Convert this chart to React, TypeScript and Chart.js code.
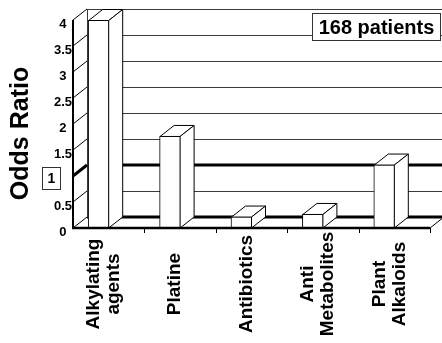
import React, { useEffect, useRef } from 'react';
import { Chart, registerables } from 'chart.js';

Chart.register(...registerables);

// ---- data ----
const categories: string[][] = [
  ['Alkylating', 'agents'],
  ['Platine'],
  ['Antibiotics'],
  ['Anti', 'Metabolites'],
  ['Plant', 'Alkaloids'],
];
const oddsRatios: number[] = [4.0, 1.77, 0.22, 0.27, 1.22];
const yMin = 0;
const yMax = 4;
const yStep = 0.5;
const referenceValue = 1;
const yTitle = 'Odds Ratio';
const noteText = '168 patients';

// ---- styling / geometry ----
const W = 442;
const H = 343;
const DX = 14;
const DY = -11;
const BAR_SHIFT = -10;
const LABEL_SHIFT = -5;
const FONT = "'Liberation Sans', Arial, Helvetica, sans-serif";

const threeD = {
  id: 'threeD',
  afterDatasetsUpdate(chart: any) {
    const meta = chart.getDatasetMeta(0);
    meta.data.forEach((el: any) => {
      el.x += BAR_SHIFT;
    });
  },
  beforeDatasetsDraw(chart: any) {
    const { ctx, chartArea, scales } = chart;
    const { left, top, bottom } = chartArea;
    const y = scales.y;
    const ticks: number[] = y.ticks.map((t: any) => t.value);
    ctx.save();
    const bl = left + DX;
    // back wall grid lines
    ticks.forEach((v) => {
      const py = Math.round(y.getPixelForValue(v) + DY);
      const thick = v === yMin || v === referenceValue;
      ctx.beginPath();
      ctx.lineWidth = thick ? 3 : 1;
      ctx.strokeStyle = thick ? '#000' : '#3a3a3a';
      const yy = thick ? py : py + 0.5;
      ctx.moveTo(bl, yy);
      ctx.lineTo(chart.width, yy);
      ctx.stroke();
    });
    // back wall left edge
    ctx.lineWidth = 1;
    ctx.strokeStyle = '#3a3a3a';
    ctx.beginPath();
    ctx.moveTo(bl + 0.5, Math.round(y.getPixelForValue(yMax) + DY));
    ctx.lineTo(bl + 0.5, Math.round(y.getPixelForValue(yMin) + DY));
    ctx.stroke();
    // left wall diagonals
    ticks.forEach((v) => {
      const py = y.getPixelForValue(v);
      const thick = v === referenceValue;
      ctx.lineWidth = thick ? 3 : 1;
      ctx.strokeStyle = '#000';
      ctx.beginPath();
      ctx.moveTo(left, py);
      ctx.lineTo(left + DX, py + DY);
      ctx.stroke();
    });
    // left wall front edge
    ctx.lineWidth = 2;
    ctx.strokeStyle = '#000';
    ctx.beginPath();
    ctx.moveTo(left, top);
    ctx.lineTo(left, bottom);
    ctx.stroke();
    ctx.restore();
  },
  afterDatasetsDraw(chart: any) {
    const { ctx, chartArea } = chart;
    const { left, right, bottom } = chartArea;
    const meta = chart.getDatasetMeta(0);
    ctx.save();
    ctx.lineWidth = 1;
    ctx.strokeStyle = '#000';
    ctx.fillStyle = '#fff';
    meta.data.forEach((el: any) => {
      const { x, y, base, width } = el.getProps(['x', 'y', 'base', 'width'], true);
      const x1 = x - width / 2 + 0.5;
      const x2 = x + width / 2 - 0.5;
      const t = y + 0.5;
      const b = base;
      // top face
      ctx.beginPath();
      ctx.moveTo(x1, t);
      ctx.lineTo(x2, t);
      ctx.lineTo(x2 + DX, t + DY);
      ctx.lineTo(x1 + DX, t + DY);
      ctx.closePath();
      ctx.fill();
      ctx.stroke();
      // side face
      ctx.beginPath();
      ctx.moveTo(x2, t);
      ctx.lineTo(x2 + DX, t + DY);
      ctx.lineTo(x2 + DX, b + DY);
      ctx.lineTo(x2, b);
      ctx.closePath();
      ctx.fill();
      ctx.stroke();
    });
    // floor front edge
    ctx.lineWidth = 2.5;
    ctx.beginPath();
    ctx.moveTo(left - 1, bottom);
    ctx.lineTo(right, bottom);
    ctx.stroke();
    // floor right edge
    ctx.lineWidth = 1;
    ctx.beginPath();
    ctx.moveTo(right, bottom);
    ctx.lineTo(right + DX, bottom + DY);
    ctx.stroke();
    // category boundary ticks
    const n = categories.length;
    const step = (right - left) / n;
    for (let i = 1; i <= n; i++) {
      const px = Math.round(left + i * step) + 0.5;
      ctx.beginPath();
      ctx.moveTo(px, bottom);
      ctx.lineTo(px, bottom + 5);
      ctx.stroke();
    }
    ctx.restore();
  },
  afterDraw(chart: any) {
    const { ctx, scales } = chart;
    const x = scales.x;
    const y = scales.y;
    ctx.save();
    ctx.fillStyle = '#000';
    // x labels
    ctx.font = `bold 19px ${FONT}`;
    ctx.textAlign = 'center';
    ctx.textBaseline = 'middle';
    categories.forEach((lines, i) => {
      const cx = x.getPixelForValue(i) + LABEL_SHIFT;
      const cy = 284;
      ctx.save();
      ctx.translate(cx, cy);
      ctx.rotate(-Math.PI / 2);
      lines.forEach((ln, j) => {
        ctx.fillText(ln, 0, (j - (lines.length - 1) / 2) * 20);
      });
      ctx.restore();
    });
    // y title
    ctx.save();
    ctx.font = `bold 25px ${FONT}`;
    ctx.translate(21.5, 133.5);
    ctx.rotate(-Math.PI / 2);
    ctx.fillText(yTitle, 0, 0);
    ctx.restore();
    // boxed reference label
    const ry = y.getPixelForValue(referenceValue);
    ctx.fillStyle = '#fff';
    ctx.strokeStyle = '#333';
    ctx.lineWidth = 1;
    ctx.fillRect(42.5, Math.round(ry - 9) + 0.5, 18, 22);
    ctx.strokeRect(42.5, Math.round(ry - 9) + 0.5, 18, 22);
    ctx.fillStyle = '#000';
    ctx.font = `bold 14px ${FONT}`;
    ctx.fillText(String(referenceValue), 51.5, ry + 3);
    // note box
    ctx.font = `bold 20px ${FONT}`;
    const tw = ctx.measureText(noteText).width;
    const bw = Math.round(tw + 12);
    const bx = 440 - bw;
    ctx.fillStyle = '#fff';
    ctx.strokeStyle = '#333';
    ctx.fillRect(bx + 0.5, 13.5, bw, 27);
    ctx.strokeRect(bx + 0.5, 13.5, bw, 27);
    ctx.fillStyle = '#000';
    ctx.fillText(noteText, bx + bw / 2 + 0.5, 28);
    ctx.restore();
  },
};

export default function App() {
  const ref = useRef<HTMLCanvasElement | null>(null);
  useEffect(() => {
    if (!ref.current) return;
    const chart = new Chart(ref.current, {
      type: 'bar',
      data: {
        labels: categories.map((c) => c.join(' ')),
        datasets: [
          {
            data: oddsRatios,
            backgroundColor: '#fff',
            borderColor: '#000',
            borderWidth: 1,
            borderSkipped: false,
            barThickness: 21,
          },
        ],
      },
      options: {
        responsive: false,
        animation: false,
        events: [],
        layout: { padding: { left: 0, right: 12, top: 20, bottom: 115 } },
        plugins: { legend: { display: false }, tooltip: { enabled: false } },
        scales: {
          x: { type: 'category', display: false },
          y: {
            min: yMin,
            max: yMax,
            grid: { display: false, drawTicks: false },
            border: { display: false },
            afterFit: (scale: any) => {
              scale.width = 73;
            },
            ticks: {
              stepSize: yStep,
              padding: 1,
              crossAlign: 'center',
              labelOffset: 4,
              color: '#000',
              font: { family: FONT, size: 13, weight: 'bold' },
              callback: (v: any) => (Number(v) === referenceValue ? '' : String(v)),
            },
          },
        },
      },
      plugins: [threeD],
    } as any);
    return () => chart.destroy();
  }, []);
  return (
    <div style={{ position: 'fixed', left: 0, top: 0, width: W, height: H, background: '#fff' }}>
      <canvas ref={ref} width={W} height={H} style={{ display: 'block' }} />
    </div>
  );
}
